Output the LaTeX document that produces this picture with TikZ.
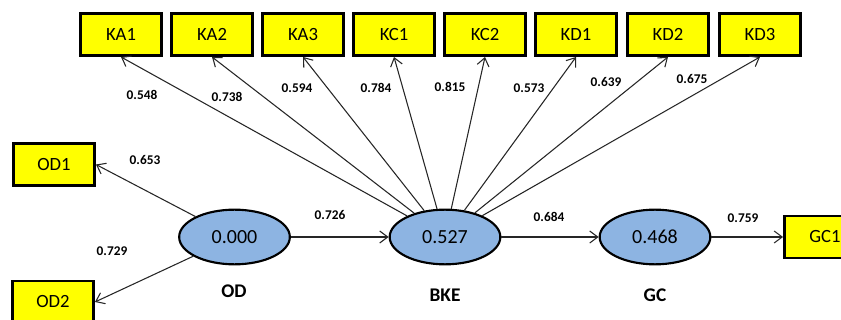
\documentclass[tikz,border=0pt]{standalone}
\usepackage{fontspec}
\setmainfont{Carlito}
\usetikzlibrary{arrows.meta,shapes.geometric}
\definecolor{boxyellow}{HTML}{FFFF00}
\definecolor{latblue}{HTML}{8DB4E2}
\tikzset{
	indbox/.style={draw, line width=2.2pt, fill=boxyellow, minimum width=60.75pt, minimum height=31.5pt, inner sep=0pt, font=\fontsize{14}{16}\selectfont},
	latent/.style={draw, ellipse, line width=1.6pt, fill=latblue, minimum width=83pt, minimum height=41pt, inner sep=0pt, font=\fontsize{15}{17}\selectfont},
	load/.style={font=\bfseries\fontsize{10}{12}\selectfont},
	latname/.style={font=\bfseries\fontsize{14.5}{17}\selectfont},
	conn/.style={draw=black!85, line width=0.8pt, -{Straight Barb[length=6pt,width=9pt]}}
}
\begin{document}
\begin{tikzpicture}[x=0.75pt, y=-0.75pt]
	\useasboundingbox (0,0) rectangle (841,320);
	% indicators
	\foreach \n/\x in {KA1/121, KA2/212, KA3/303, KC1/394, KC2/485, KD1/576, KD2/668, KD3/760}
	{
		\node[indbox] (\n) at (\x, 34.5) {\n};
	}
	\node[indbox] (OD1) at (54, 164.5) {OD1};
	\node[indbox] (OD2) at (53, 302) {OD2};
	\node[indbox] (GC1) at (825, 237) {GC1};

	% latent variables
	\node[latent] (OD) at (234.5, 237) {0.000};
	\node[latent] (BKE) at (445, 237) {0.527};
	\node[latent] (GC) at (655, 237) {0.468};
	\node[latname] (nOD) at (234, 291) {OD};
	\node[latname] (nBKE) at (445, 295) {BKE};
	\node[latname] (nGC) at (655, 295) {GC};

	% connectors
	\foreach \n in {KA1, KA2, KA3, KC1, KC2, KD1, KD2, KD3}
	{
		\draw[conn] (BKE) -- (\n.south);
	}
	\draw[conn] (OD) -- (OD1.east);
	\draw[conn] (OD) -- (OD2.east);
	\draw[conn] (OD) -- (BKE);
	\draw[conn] (BKE) -- (GC);
	\draw[conn] (GC) -- (GC1);

	% loadings
	\foreach \n/\x/\y/\v in {KA1/142/95/0.548, KA2/227/97/0.738, KA3/297/88/0.594, KC1/376/88/0.784, KC2/450/87/0.815, KD1/529/88/0.573, KD2/606/82/0.639, KD3/692/79/0.675, OD1/145/160/0.653, OD2/112/251/0.729, BKE/330/215/0.726, GC/549/217/0.684, GC1/743/218/0.759}
	{
		\node[load] (l\n) at (\x, \y) {\v};
	}
\end{tikzpicture}
\end{document}
